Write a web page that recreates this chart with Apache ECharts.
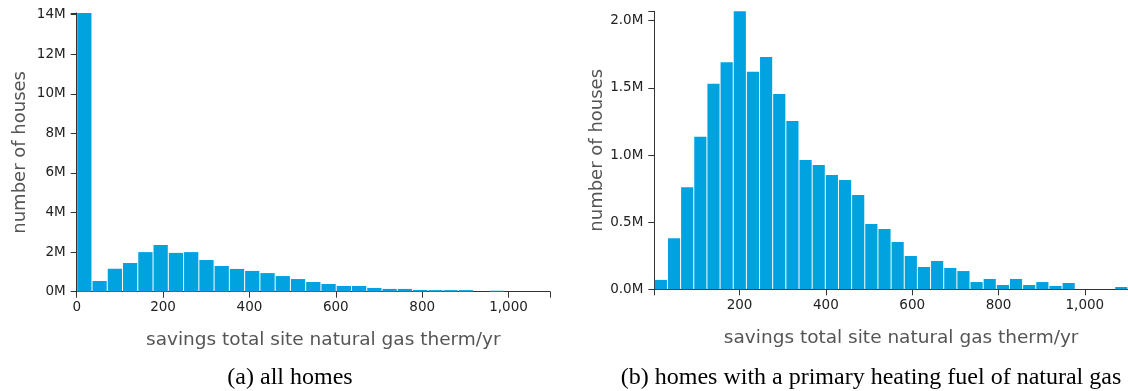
<!DOCTYPE html>
<html>
<head>
<meta charset="utf-8">
<script src="https://cdn.jsdelivr.net/npm/echarts@6/dist/echarts.min.js"></script>
<style>
  html, body { margin: 0; padding: 0; background: #fff; }
  #main { width: 1128px; height: 391px; }
</style>
</head>
<body>
<div id="main"></div>
<script>
// histogram (a): all homes, 31 bins, counts in millions
const allStart = 0;
const allBinWidth = 35.35;
const allHomesM = [14.08, 0.54, 1.16, 1.45, 2.0, 2.36, 1.96, 2.0, 1.6, 1.3, 1.15, 1.05, 0.94, 0.79, 0.64,
  0.49, 0.39, 0.29, 0.29, 0.19, 0.14, 0.14, 0.09, 0.08, 0.08, 0.08, 0.0, 0.05, 0, 0, 0];

// histogram (b): homes heated with natural gas, 36 bins, counts in millions
const gasStart = 2.4;
const gasBinWidth = 30.48;
const gasHomesM = [0.07, 0.38, 0.76, 1.136, 1.53, 1.69, 2.07, 1.62, 1.73, 1.454, 1.253, 0.963, 0.926, 0.851,
  0.814, 0.702, 0.486, 0.449, 0.352, 0.248, 0.166, 0.211, 0.159, 0.136, 0.054, 0.077, 0.032, 0.077, 0.032,
  0.054, 0.025, 0.047, 0, 0, 0, 0.017];

const xTickLabels = [200, 400, 600, 800, 1000];
const captions = ["(a) all homes", "(b) homes with a primary heating fuel of natural gas"];
const xTitle = "savings total site natural gas therm/yr";
const yTitle = "number of houses";

const barColor = "#00a3e0";
const axisColor = "#333";
const font = "DejaVu Sans";

function bins(start, width, counts) {
  return counts.map((c, i) => [start + i * width, start + (i + 1) * width, c * 1e6]);
}

function renderBar(params, api) {
  const a = api.coord([api.value(0), api.value(2)]);
  const b = api.coord([api.value(1), 0]);
  return {
    type: "rect",
    shape: { x: a[0] + 0.5, y: a[1], width: b[0] - a[0] - 1, height: b[1] - a[1] },
    style: { fill: barColor }
  };
}

function xAxis(gridIndex, min, max, ticks) {
  return {
    type: "value",
    gridIndex,
    min, max,
    name: xTitle,
    nameLocation: "middle",
    nameGap: 39,
    nameTextStyle: { fontFamily: font, fontSize: 18.5, color: "#555", padding: [0, 0, 0, 20] },
    axisLine: { show: true, lineStyle: { color: axisColor } },
    axisTick: { show: true, length: 6, customValues: ticks, lineStyle: { color: axisColor } },
    axisLabel: {
      customValues: gridIndex === 0 ? [0].concat(xTickLabels) : xTickLabels,
      margin: 9, fontFamily: font, fontSize: 13.5, color: "#222",
      formatter: v => v.toLocaleString("en-US")
    },
    splitLine: { show: false }
  };
}

function yAxis(gridIndex, max, ticks, fmt) {
  return {
    type: "value",
    gridIndex,
    min: 0, max,
    name: yTitle,
    nameLocation: "middle",
    nameGap: 47,
    nameTextStyle: { fontFamily: font, fontSize: 18, color: "#555" },
    axisLine: { show: true, lineStyle: { color: axisColor } },
    axisTick: { show: true, length: 6, customValues: ticks.concat([max]), lineStyle: { color: axisColor } },
    axisLabel: { customValues: ticks, margin: 11, fontFamily: font, fontSize: 13.5, color: "#222", formatter: fmt },
    splitLine: { show: false }
  };
}

const chart = echarts.init(document.getElementById("main"));
chart.setOption({
  animation: false,
  grid: [
    { left: 76.7, top: 13, width: 473.3, height: 278.7 },
    { left: 654.3, top: 11.3, width: 476.1, height: 278 }
  ],
  xAxis: [
    xAxis(0, 0, 1096, [0, 200, 400, 600, 800, 1000, 1096]),
    xAxis(1, gasStart, 1100, [gasStart, 200, 400, 600, 800, 1000])
  ],
  yAxis: [
    yAxis(0, 14.08e6, [0, 2e6, 4e6, 6e6, 8e6, 10e6, 12e6, 14e6], v => v / 1e6 + "M"),
    yAxis(1, 2.07e6, [0, 0.5e6, 1e6, 1.5e6, 2e6], v => (v / 1e6).toFixed(1) + "M")
  ],
  series: [
    {
      type: "custom", xAxisIndex: 0, yAxisIndex: 0,
      data: bins(allStart, allBinWidth, allHomesM),
      encode: { x: [0, 1], y: 2 },
      renderItem: renderBar
    },
    {
      type: "custom", xAxisIndex: 1, yAxisIndex: 1,
      data: bins(gasStart, gasBinWidth, gasHomesM),
      encode: { x: [0, 1], y: 2 },
      renderItem: renderBar
    }
  ],
  graphic: [
    { type: "text", x: 290, y: 378, style: { text: captions[0], font: "24px 'Liberation Serif'", fill: "#000", textAlign: "center", textVerticalAlign: "middle" } },
    { type: "text", x: 871, y: 378, style: { text: captions[1], font: "24px 'Liberation Serif'", fill: "#000", textAlign: "center", textVerticalAlign: "middle" } }
  ]
});
</script>
</body>
</html>
